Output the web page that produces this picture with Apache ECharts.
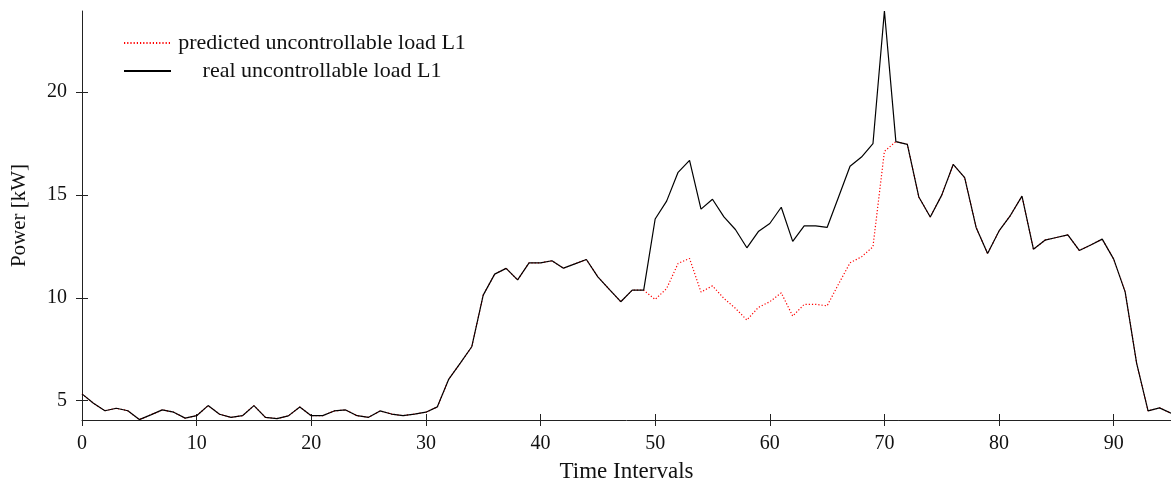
<!DOCTYPE html>
<html>
<head>
<meta charset="utf-8">
<title>Uncontrollable load L1</title>
<script src="https://cdn.jsdelivr.net/npm/echarts@6/dist/echarts.min.js"></script>
<style>
  html, body { margin: 0; padding: 0; background: #ffffff; }
  #chart { width: 1171px; height: 481px; }
</style>
</head>
<body>
<div id="chart"></div>
<script>
// Load per time interval (kW), intervals 0..95
const realLoad = [
  5.33, 4.87, 4.51, 4.63, 4.51, 4.08, 4.31, 4.55, 4.44, 4.15,
  4.27, 4.76, 4.34, 4.19, 4.27, 4.76, 4.19, 4.13, 4.26, 4.69,
  4.27, 4.27, 4.50, 4.55, 4.27, 4.19, 4.50, 4.35, 4.27, 4.35,
  4.44, 4.70, 6.05, 6.82, 7.62, 10.13, 11.15, 11.43, 10.87, 11.70,
  11.70, 11.80, 11.44, 11.65, 11.86, 11.02, 10.41, 9.81, 10.37, 10.37,
  13.83, 14.70, 16.10, 16.68, 14.31, 14.79, 13.93, 13.32, 12.43, 13.22,
  13.61, 14.40, 12.74, 13.50, 13.50, 13.42, 14.90, 16.39, 16.84, 17.49,
  23.94, 17.59, 17.46, 14.90, 13.93, 14.99, 16.48, 15.84, 13.42, 12.15,
  13.25, 14.01, 14.94, 12.36, 12.80, 12.93, 13.06, 12.30, 12.57, 12.85,
  11.88, 10.29, 6.82, 4.50, 4.65, 4.39
];

const predictedLoad = [
  5.33, 4.87, 4.51, 4.63, 4.51, 4.08, 4.31, 4.55, 4.44, 4.15,
  4.27, 4.76, 4.34, 4.19, 4.27, 4.76, 4.19, 4.13, 4.26, 4.69,
  4.27, 4.27, 4.50, 4.55, 4.27, 4.19, 4.50, 4.35, 4.27, 4.35,
  4.44, 4.70, 6.05, 6.82, 7.62, 10.13, 11.15, 11.43, 10.87, 11.70,
  11.70, 11.80, 11.44, 11.65, 11.86, 11.02, 10.41, 9.81, 10.37, 10.37,
  9.92, 10.45, 11.67, 11.91, 10.28, 10.58, 9.97, 9.49, 8.92, 9.53,
  9.81, 10.24, 9.11, 9.68, 9.68, 9.61, 10.67, 11.70, 11.99, 12.48,
  17.12, 17.59, 17.46, 14.90, 13.93, 14.99, 16.48, 15.84, 13.42, 12.15,
  13.25, 14.01, 14.94, 12.36, 12.80, 12.93, 13.06, 12.30, 12.57, 12.85,
  11.88, 10.29, 6.82, 4.50, 4.65, 4.39
];

const xTicks = [0, 10, 20, 30, 40, 50, 60, 70, 80, 90];
const yTicks = [5, 10, 15, 20];

const seriesNames = ['predicted uncontrollable load L1', 'real uncontrollable load L1'];

const FONT = '"Liberation Serif", "Times New Roman", serif';
const AXIS_COLOR = '#222';
const TEXT_COLOR = '#111';

function pairs(values) {
  return values.map((v, i) => [i, v]);
}

const X_MIN = 0, X_MAX = 95;
const Y_MIN = 4.06, Y_MAX = 23.94;

const chart = echarts.init(document.getElementById('chart'), null, { renderer: 'canvas' });

const baseX = { type: 'value', min: X_MIN, max: X_MAX, gridIndex: 0 };
const baseY = { type: 'value', min: Y_MIN, max: Y_MAX, gridIndex: 0 };

chart.setOption({
  animation: false,
  backgroundColor: '#ffffff',
  grid: { left: 82, right: 0, top: 11, bottom: 61, containLabel: false, outerBoundsMode: 'none' },
  legend: {
    orient: 'vertical',
    left: 118,
    top: 27,
    itemWidth: 47,
    itemHeight: 14,
    itemGap: 6,
    data: seriesNames,
    itemStyle: { opacity: 0 },
    formatter: '{c|{name}}',
    textStyle: {
      fontFamily: FONT,
      fontSize: 22,
      color: TEXT_COLOR,
      rich: { c: { width: 292, align: 'center', fontFamily: FONT, fontSize: 22, lineHeight: 22 } }
    }
  },
  xAxis: [
    Object.assign({}, baseX, {
      name: 'Time Intervals',
      nameLocation: 'middle',
      nameGap: 40,
      nameTextStyle: { fontFamily: FONT, fontSize: 23, color: TEXT_COLOR },
      axisLine: { show: true, onZero: false, lineStyle: { color: AXIS_COLOR, width: 1 } },
      axisTick: { show: true, inside: false, length: 6, customValues: xTicks, lineStyle: { color: AXIS_COLOR } },
      axisLabel: { show: true, margin: 14, customValues: xTicks, fontFamily: FONT, fontSize: 20, color: TEXT_COLOR },
      splitLine: { show: false }
    }),
    Object.assign({}, baseX, {
      position: 'bottom',
      axisLine: { show: false },
      axisTick: { show: true, inside: true, length: 6, customValues: xTicks, lineStyle: { color: AXIS_COLOR } },
      axisLabel: { show: false },
      splitLine: { show: false }
    })
  ],
  yAxis: [
    Object.assign({}, baseY, {
      name: 'Power [kW]',
      nameLocation: 'middle',
      nameGap: 52,
      nameRotate: 90,
      nameTextStyle: { fontFamily: FONT, fontSize: 21, color: TEXT_COLOR },
      axisLine: { show: true, onZero: false, lineStyle: { color: AXIS_COLOR, width: 1 } },
      axisTick: { show: true, inside: false, length: 6, customValues: yTicks, lineStyle: { color: AXIS_COLOR } },
      axisLabel: { show: true, margin: 15, customValues: yTicks, fontFamily: FONT, fontSize: 20, color: TEXT_COLOR },
      splitLine: { show: false }
    }),
    Object.assign({}, baseY, {
      position: 'left',
      axisLine: { show: false },
      axisTick: { show: true, inside: true, length: 6, customValues: yTicks, lineStyle: { color: AXIS_COLOR } },
      axisLabel: { show: false },
      splitLine: { show: false }
    })
  ],
  series: [
    {
      name: seriesNames[0],
      type: 'line',
      xAxisIndex: 0,
      yAxisIndex: 0,
      data: pairs(predictedLoad),
      symbol: 'none',
      lineStyle: { color: '#ff0000', width: 1.2, type: [1.2, 2] },
      itemStyle: { color: '#ff0000' },
      z: 2
    },
    {
      name: seriesNames[1],
      type: 'line',
      xAxisIndex: 0,
      yAxisIndex: 0,
      data: pairs(realLoad),
      symbol: 'none',
      lineStyle: { color: '#000000', width: 1.2 },
      itemStyle: { color: '#000000' },
      z: 3
    }
  ]
});
</script>
</body>
</html>
